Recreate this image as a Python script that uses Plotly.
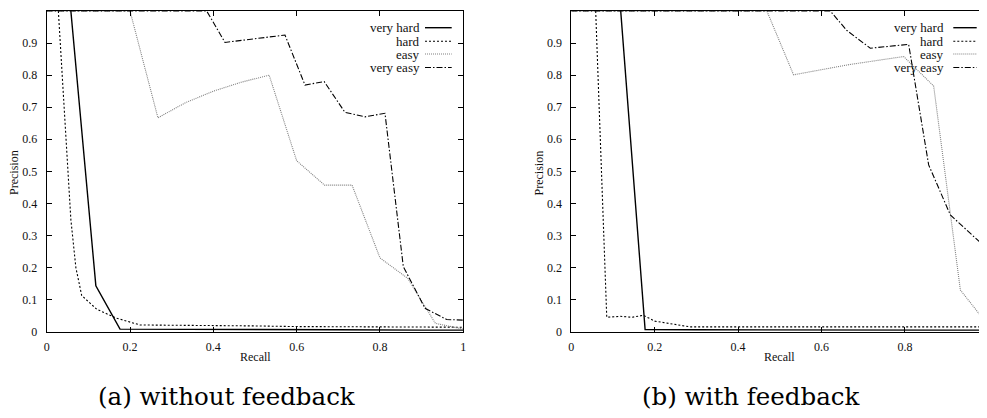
import plotly.graph_objects as go

W, H = 987, 418

# ---------------- data ----------------
series_names = ["very hard", "hard", "easy", "very easy"]

# (a) without feedback
vh_a_recall = [0.058, 0.108, 0.118, 0.176, 0.3, 0.5, 0.7, 0.9, 1.0]
vh_a_prec = [1.0, 0.286, 0.143, 0.008, 0.007, 0.006, 0.006, 0.005, 0.005]
hard_a_recall = [0.028, 0.048, 0.058, 0.07, 0.084, 0.12, 0.168, 0.224, 0.3, 0.4, 0.5, 0.6, 0.8, 1.0]
hard_a_prec = [1.0, 0.56, 0.35, 0.2, 0.113, 0.07, 0.042, 0.021, 0.02, 0.021, 0.018, 0.016, 0.016, 0.014]
easy_a_recall = [0.0, 0.2, 0.267, 0.333, 0.4, 0.467, 0.534, 0.6, 0.667, 0.733, 0.8, 0.867, 0.933, 1.0]
easy_a_prec = [1.0, 1.0, 0.667, 0.714, 0.75, 0.778, 0.8, 0.533, 0.457, 0.457, 0.23, 0.166, 0.026, 0.008]
veasy_a_recall = [0.0, 0.384, 0.428, 0.572, 0.62, 0.666, 0.716, 0.764, 0.812, 0.856, 0.908, 0.96, 1.0]
veasy_a_prec = [1.0, 1.0, 0.902, 0.925, 0.769, 0.78, 0.684, 0.67, 0.681, 0.203, 0.073, 0.038, 0.036]

# (b) with feedback
vh_b_recall = [0.1185, 0.177, 0.3, 0.5, 0.7, 0.9, 1.0]
vh_b_prec = [1.0, 0.007, 0.006, 0.005, 0.005, 0.005, 0.005]
hard_b_recall = [0.0585, 0.085, 0.117, 0.145, 0.173, 0.2, 0.285, 0.4, 0.6, 0.8, 1.0]
hard_b_prec = [1.0, 0.045, 0.048, 0.045, 0.051, 0.033, 0.015, 0.015, 0.015, 0.015, 0.015]
easy_b_recall = [0.0, 0.469, 0.533, 0.667, 0.797, 0.869, 0.933, 1.0]
easy_b_prec = [1.0, 1.0, 0.801, 0.833, 0.858, 0.766, 0.13, 0.02]
veasy_b_recall = [0.0, 0.621, 0.661, 0.717, 0.809, 0.857, 0.909, 1.0]
veasy_b_prec = [1.0, 1.0, 0.939, 0.884, 0.896, 0.52, 0.364, 0.255]

x_tick_vals = [0, 0.2, 0.4, 0.6, 0.8, 1.0]
x_tick_text = ["0", "0.2", "0.4", "0.6", "0.8", "1"]
y_tick_vals = [0, 0.1, 0.2, 0.3, 0.4, 0.5, 0.6, 0.7, 0.8, 0.9, 1.0]
y_tick_text = ["0", "0.1", "0.2", "0.3", "0.4", "0.5", "0.6", "0.7", "0.8", "0.9", "1"]

captions = ["(a) without feedback", "(b) with feedback"]
x_title = "Recall"
y_title = "Precision"

# ---------------- styles ----------------
styles = [
    dict(color="black", width=1.4, dash="solid"),
    dict(color="black", width=1.1, dash="2px,2px"),
    dict(color="#808080", width=1.1, dash="1px,1px"),
    dict(color="black", width=1.1, dash="6px,2px,1.5px,2px"),
]

FONT = "Liberation Serif"

fig = go.Figure()

panel_a = [(vh_a_recall, vh_a_prec), (hard_a_recall, hard_a_prec),
           (easy_a_recall, easy_a_prec), (veasy_a_recall, veasy_a_prec)]
panel_b = [(vh_b_recall, vh_b_prec), (hard_b_recall, hard_b_prec),
           (easy_b_recall, easy_b_prec), (veasy_b_recall, veasy_b_prec)]

for (xs, ys), st, nm in zip(panel_a, styles, series_names):
    fig.add_trace(go.Scatter(x=xs, y=ys, mode="lines", line=st, name=nm,
                             xaxis="x", yaxis="y", showlegend=False, hoverinfo="skip"))
for (xs, ys), st, nm in zip(panel_b, styles, series_names):
    fig.add_trace(go.Scatter(x=xs, y=ys, mode="lines", line=st, name=nm,
                             xaxis="x2", yaxis="y2", showlegend=False, hoverinfo="skip"))

# pixel geometry (page puts the figure 8px in from the top-left corner)
OFF = 8.0

def px(x):
    return (x - OFF) / W

def py(y):
    return 1 - (y - OFF) / H

ax_left_a, ax_right_a = 46.7, 463.3
ax_left_b, ax_right_b = 571.3, 988.3
top_px, bot_px = 11.0, 331.7

common_x = dict(tickmode="array",
                ticks="inside", ticklen=5, tickcolor="black", tickwidth=1,
                showline=True, linecolor="black", linewidth=1,
                showgrid=False, zeroline=False, automargin=False, range=[0, 1],
                tickfont=dict(family=FONT, size=12, color="#111"),
                ticklabelstandoff=4, mirror="ticks")
common_y = dict(tickmode="array", tickvals=y_tick_vals, ticktext=y_tick_text,
                ticks="inside", ticklen=5, tickcolor="black", tickwidth=1,
                showline=True, linecolor="black", linewidth=1,
                showgrid=False, zeroline=False, range=[0, 1], automargin=False,
                tickfont=dict(family=FONT, size=12, color="#111"),
                ticklabelstandoff=6, mirror="ticks")

fig.update_layout(
    width=W, height=H,
    margin=dict(l=0, r=0, t=0, b=0, autoexpand=False),
    paper_bgcolor="white", plot_bgcolor="white",
    showlegend=False,
    xaxis=dict(domain=[px(ax_left_a), px(ax_right_a)], anchor="y",
               tickvals=x_tick_vals, ticktext=x_tick_text, **common_x),
    yaxis=dict(domain=[py(bot_px), py(top_px)], anchor="x", **common_y),
    # the right panel's last tick ("1") falls outside the visible page
    xaxis2=dict(domain=[px(ax_left_b), px(ax_right_b)], anchor="y2",
                tickvals=x_tick_vals[:-1], ticktext=x_tick_text[:-1], **common_x),
    yaxis2=dict(domain=[py(bot_px), py(top_px)], anchor="x2", **common_y),
)

annotations = []
shapes = []

# axis titles
for cx in [(ax_left_a + ax_right_a) / 2, (ax_left_b + ax_right_b) / 2]:
    annotations.append(dict(x=px(cx), y=py(357), xref="paper", yref="paper",
                            text=x_title, showarrow=False, xanchor="center", yanchor="middle",
                            font=dict(family=FONT, size=12, color="#111")))
for cx in [14, 538.5]:
    annotations.append(dict(x=px(cx), y=py(173), xref="paper", yref="paper",
                            text=y_title, showarrow=False, textangle=-90,
                            xanchor="center", yanchor="middle",
                            font=dict(family=FONT, size=12, color="#111")))

# captions
for cx, txt in zip([226.7, 751], captions):
    annotations.append(dict(x=px(cx), y=py(396), xref="paper", yref="paper",
                            text=txt, showarrow=False, xanchor="center", yanchor="middle",
                            font=dict(family="DejaVu Serif", size=24.5, color="black")))

# gnuplot style key (text right aligned, sample to the right)
row_y = [27.7, 41.2, 54.0, 67.5]
for text_right, s0, s1 in [(420.7, 425.0, 451.7), (945.0, 953.3, 976.7)]:
    for nm, st, yy in zip(series_names, styles, row_y):
        annotations.append(dict(x=px(text_right), y=py(yy), xref="paper", yref="paper",
                                text=nm, showarrow=False, xanchor="right", yanchor="middle",
                                borderpad=0,
                                font=dict(family=FONT, size=13, color="#111")))
        shapes.append(dict(type="line", xref="paper", yref="paper",
                           x0=px(s0), x1=px(s1), y0=py(yy), y1=py(yy),
                           line=dict(color=st["color"], width=st["width"], dash=st["dash"])))

fig.update_layout(annotations=annotations, shapes=shapes)

fig.write_html("out.html")
